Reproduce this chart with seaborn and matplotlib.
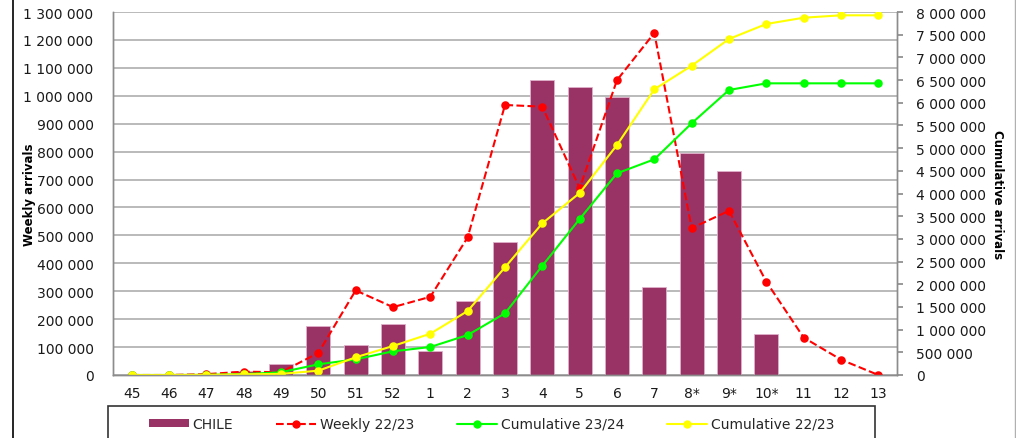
import matplotlib
matplotlib.use("Agg")
import matplotlib.pyplot as plt
import matplotlib.ticker as mticker
from matplotlib.patches import Rectangle
from matplotlib.lines import Line2D
import seaborn as sns
import numpy as np

# Semanas (45 de 2023 a 13 de 2024)
semanas = ['45', '46', '47', '48', '49', '50', '51', '52', '1', '2', '3', '4', '5',
           '6', '7', '8*', '9*', '10*', '11', '12', '13']

# Llegadas semanales Chile 23/24 (barras, eje izquierdo)
chile = [0, 0, 3000, 15000, 40000, 174000, 107000, 183000, 87000, 265000, 475000,
         1056000, 1030000, 994000, 314000, 794000, 729000, 147000,
         np.nan, np.nan, np.nan]

# Semanal 22/23 (eje izquierdo)
semanal_2223 = [0, 0, 3000, 12000, 10000, 79000, 303000, 243000, 280000, 493000, 967000,
                961000, 669000, 1056000, 1225000, 526000, 588000, 334000, 134000, 55000, 0]

# Acumulados (eje derecho)
acum_2324 = [0, 0, 3000, 18000, 60000, 235000, 345000, 522000, 617000, 881000, 1359000,
             2409000, 3438000, 4445000, 4753000, 5547000, 6281000, 6428000, 6428000,
             6428000, 6428000]
acum_2223 = [0, 0, 3000, 15000, 25000, 95000, 390000, 639000, 910000, 1410000, 2374000,
             3343000, 4011000, 5069000, 6296000, 6816000, 7405000, 7736000, 7874000,
             7927000, 7927000]

COLOR_BARRA = '#993366'
GRIS = '#b4b4b4'


def fmt_espacios(v, pos=None):
    return f"{v:,.0f}".replace(",", " ")


sns.set_theme(style='white')
plt.rcParams['font.family'] = ['DejaVu Sans']

fig = plt.figure(figsize=(10.16, 4.39), dpi=100)
ax = fig.add_axes([113 / 1016, 1 - 376 / 439, 784 / 1016, 363 / 439])

sns.barplot(x=semanas, y=chile, order=semanas, color=COLOR_BARRA, width=0.65,
            edgecolor='#e0b0cc', linewidth=0.6, saturation=1, ax=ax, zorder=2)
sns.pointplot(x=semanas, y=semanal_2223, order=semanas, color='#ff0000', linestyles='--',
              markers='o', markersize=5, linewidth=1.5, errorbar=None, ax=ax, zorder=4)

ax.set_ylim(0, 1300000)
ax.yaxis.set_major_locator(mticker.MultipleLocator(100000))
ax.yaxis.set_major_formatter(mticker.FuncFormatter(fmt_espacios))
ax.grid(axis='y', color=GRIS, linewidth=1.3, zorder=0)
ax.set_axisbelow(True)
ax.set_xlim(-0.5, len(semanas) - 0.5)

ax2 = ax.twinx()
sns.pointplot(x=semanas, y=acum_2324, order=semanas, color='#00ff00', linestyles='-',
              markers='o', markersize=5, linewidth=1.5, errorbar=None, ax=ax2)
sns.pointplot(x=semanas, y=acum_2223, order=semanas, color='#ffff00', linestyles='-',
              markers='o', markersize=5, linewidth=1.5, errorbar=None, ax=ax2)
ax2.set_ylim(0, 8000000)
ax2.yaxis.set_major_locator(mticker.MultipleLocator(500000))
ax2.yaxis.set_major_formatter(mticker.FuncFormatter(fmt_espacios))
ax2.set_xlim(-0.5, len(semanas) - 0.5)
ax2.grid(False)

for a in (ax, ax2):
    a.spines['top'].set_visible(False)
    for lado in ('left', 'right', 'bottom'):
        a.spines[lado].set_color('#8c8c8c')
        a.spines[lado].set_linewidth(1.0)
    a.set_xlabel('')
    a.set_ylabel('')

ax.tick_params(axis='y', labelsize=10, pad=14, length=0, colors='#1a1a1a')
ax.tick_params(axis='x', labelsize=10, pad=8, length=0, colors='#1a1a1a')
ax2.tick_params(axis='y', labelsize=10, pad=10, length=4, color='#8c8c8c',
                labelcolor='#1a1a1a', direction='out')

fuente_ejes = dict(family=['DejaVu Sans'], weight='bold', size=8.5, color='black')
fig.text(30 / 1016, 1 - 195 / 439, 'Weekly arrivals', rotation=90,
         ha='center', va='center', **fuente_ejes)
fig.text(998 / 1016, 1 - 195 / 439, 'Cumulative arrivals', rotation=-90,
         ha='center', va='center', **fuente_ejes)

# Leyenda con marco
fig.patches.append(Rectangle((108 / 1016, -0.05), (875 - 108) / 1016, 1 - 407 / 439 + 0.05,
                             transform=fig.transFigure, fill=False, edgecolor='#333333',
                             linewidth=1.2))
manijas = [
    Rectangle((0, 0), 1, 1, facecolor=COLOR_BARRA, edgecolor='none'),
    Line2D([], [], color='#ff0000', linestyle='--', marker='o', markersize=5, linewidth=1.5),
    Line2D([], [], color='#00ff00', linestyle='-', marker='o', markersize=5, linewidth=1.5),
    Line2D([], [], color='#ffff00', linestyle='-', marker='o', markersize=5, linewidth=1.5),
]
etiquetas = ['CHILE', 'Weekly 22/23', 'Cumulative 23/24', 'Cumulative 22/23']
fig.legend(manijas, etiquetas, loc='center left', ncol=4, frameon=False,
           bbox_to_anchor=(136 / 1016, 1 - 425 / 439), fontsize=10,
           handlelength=2.9, handleheight=0.45, columnspacing=3.1, handletextpad=0.25)

# Bordes exteriores
fig.add_artist(Line2D([13 / 1016, 13 / 1016], [0, 1], color='black', linewidth=1.2,
                      transform=fig.transFigure))
fig.add_artist(Line2D([1014.5 / 1016, 1014.5 / 1016], [0, 1], color='#b0b0b0', linewidth=1,
                      transform=fig.transFigure))

fig.savefig('out.png', dpi=100)
